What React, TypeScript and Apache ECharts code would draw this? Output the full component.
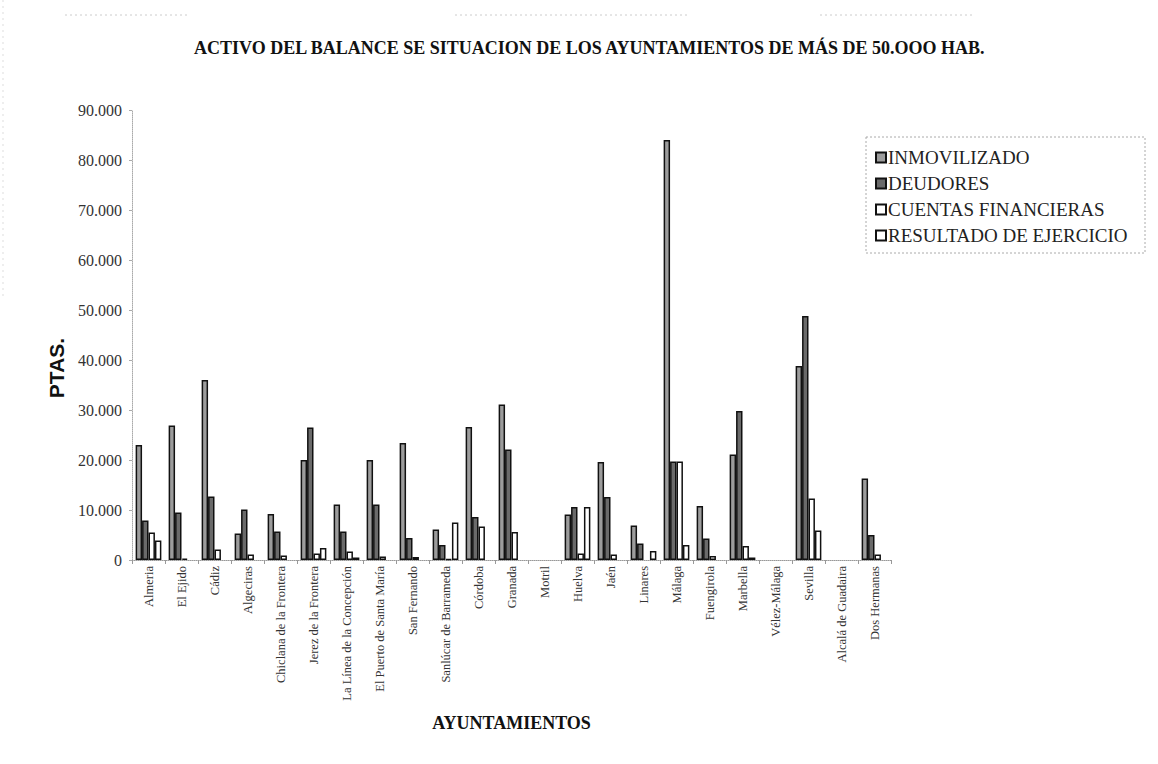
import React, { useEffect, useRef } from "react";
import * as echarts from "echarts";

const categories = [
  "Almeria", "El Ejido", "Cádiz", "Algeciras", "Chiclana de la Frontera",
  "Jerez de la Frontera", "La Línea de la Concepción", "El Puerto de Santa María",
  "San Fernando", "Sanlúcar de Barrameda", "Córdoba", "Granada", "Motril",
  "Huelva", "Jaén", "Linares", "Málaga", "Fuengirola", "Marbella",
  "Vélez-Málaga", "Sevilla", "Alcalá de Guadaira", "Dos Hermanas",
];

const seriesNames = ["INMOVILIZADO", "DEUDORES", "CUENTAS FINANCIERAS", "RESULTADO DE EJERCICIO"];

const inmovilizado = [23000, 26900, 36000, 5300, 9200, 20000, 11100, 20000, 23400, 6100, 26600, 31100, null, 9100, 19600, 6900, 84000, 10800, 21100, null, 38800, null, 16300];
const deudores = [7900, 9500, 12700, 10100, 5700, 26500, 5700, 11100, 4400, 3000, 8600, 22100, null, 10600, 12600, 3300, 19700, 4300, 29800, null, 48800, null, 5000];
const cuentasFinancieras = [5500, 300, 2100, 1100, 900, 1300, 1700, 700, 600, 200, 6700, 5600, null, 1300, 1100, null, 19700, 800, 2800, null, 12300, null, 1100];
const resultadoEjercicio = [3900, null, null, null, null, 2400, 500, null, null, 7500, null, null, null, 10600, null, 1800, 3000, null, 500, null, 5900, null, null];

const yMin = 0;
const yMax = 90000;
const yInterval = 10000;

const fills = ["#9c9c9c", "#6a6a6a", "#ffffff", "#ffffff"];
const seriesData = [inmovilizado, deudores, cuentasFinancieras, resultadoEjercicio];

const SERIF = "'Liberation Serif', 'DejaVu Serif', serif";

export default function App() {
  const ref = useRef<HTMLDivElement>(null);
  useEffect(() => {
    document.body.style.margin = "0";
    const chart = echarts.init(ref.current!, null, { renderer: "svg" });
    chart.setOption({
      animation: false,
      backgroundColor: "#ffffff",
      title: {
        text: "ACTIVO DEL BALANCE SE SITUACION DE LOS AYUNTAMIENTOS DE MÁS DE 50.OOO HAB.",
        left: 189,
        top: 34,
        textStyle: { fontFamily: SERIF, fontSize: 18, fontWeight: "bold", color: "#111" },
      },
      legend: {
        orient: "vertical",
        left: 870,
        top: 143,
        itemGap: 7,
        itemWidth: 10,
        itemHeight: 10,
        icon: "rect",
        data: seriesNames,
        textStyle: { fontFamily: SERIF, fontSize: 19, color: "#222", padding: [0, 0, 0, -3] },
      },
      grid: { left: 132, right: 267, top: 110, bottom: 204, containLabel: false },
      xAxis: {
        type: "category",
        data: categories,
        name: "AYUNTAMIENTOS",
        nameLocation: "middle",
        nameGap: 154,
        nameTextStyle: { fontFamily: SERIF, fontSize: 18, fontWeight: "bold", color: "#111" },
        axisLine: { lineStyle: { color: "#999", type: "dotted", width: 1 } },
        axisTick: { show: true, length: 4, lineStyle: { color: "#999" } },
        axisLabel: {
          rotate: 90,
          interval: 0,
          fontFamily: SERIF,
          fontSize: 12.5,
          color: "#333",
          margin: 6,
        },
      },
      yAxis: {
        type: "value",
        min: yMin,
        max: yMax,
        interval: yInterval,
        axisLine: { show: true, lineStyle: { color: "#aaa", type: "dotted", width: 1 } },
        axisTick: { show: true, length: 3, lineStyle: { color: "#aaa" } },
        splitLine: { show: false },
        axisLabel: {
          fontFamily: SERIF,
          fontSize: 16,
          color: "#333",
          margin: 10,
          formatter: (v: number) => (v === 0 ? "0" : v.toLocaleString("de-DE")),
        },
      },
      series: seriesNames.map((name, i) => ({
        name,
        type: "bar",
        data: seriesData[i],
        barGap: "0%",
        barCategoryGap: "22%",
        itemStyle: { color: fills[i], borderColor: "#111", borderWidth: 1.5 },
      })),
      graphic: [
        {
          type: "text",
          x: 56,
          y: 368,
          rotation: Math.PI / 2,
          style: {
            text: "PTAS.",
            font: "bold 21px 'Liberation Sans', Arial, sans-serif",
            fill: "#111",
            align: "center",
            verticalAlign: "middle",
          },
          silent: true,
        },
        {
          type: "rect",
          shape: { x: 866, y: 137, width: 279, height: 116 },
          style: { fill: "none", stroke: "#aaa", lineWidth: 1, lineDash: [2, 2] },
          silent: true,
        },
        { type: "line", shape: { x1: 65, y1: 15, x2: 190, y2: 15 }, style: { stroke: "#ccc", lineDash: [2, 3] } },
        { type: "line", shape: { x1: 455, y1: 15, x2: 690, y2: 15 }, style: { stroke: "#ccc", lineDash: [2, 3] } },
        { type: "line", shape: { x1: 820, y1: 15, x2: 975, y2: 15 }, style: { stroke: "#ccc", lineDash: [2, 3] } },
        { type: "line", shape: { x1: 3, y1: 0, x2: 3, y2: 300 }, style: { stroke: "#ddd", lineDash: [2, 4] } },
      ],
    });
    return () => chart.dispose();
  }, []);
  return <div ref={ref} style={{ width: 1158, height: 764 }} />;
}
